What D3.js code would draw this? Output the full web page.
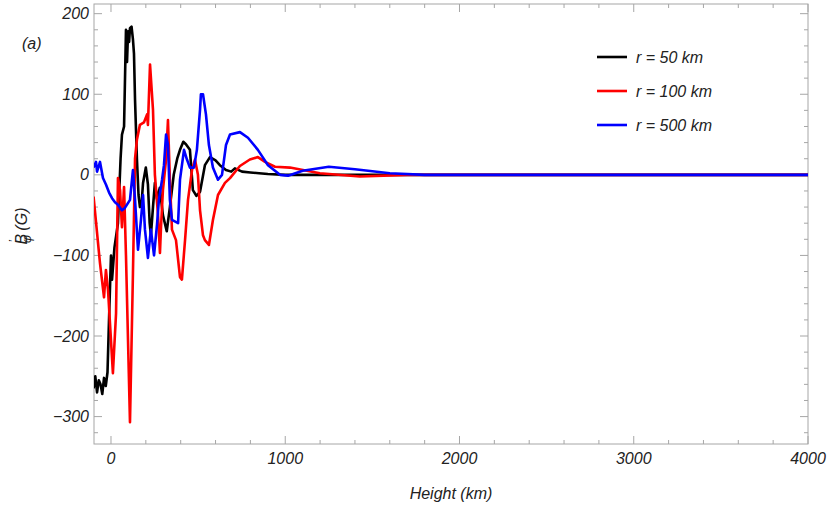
<!DOCTYPE html>
<html><head><meta charset="utf-8">
<script src="https://cdn.jsdelivr.net/npm/d3@7"></script>
<style>body{margin:0;background:#fff}svg{font-family:"Liberation Sans",Arial,sans-serif}</style>
</head><body><svg id="c" width="830" height="506"></svg>
<script>
// ── Data ──
const xTicks = [0, 1000, 2000, 3000, 4000];
const yTicks = [-300, -200, -100, 0, 100, 200];
const seriesNames = ['r = 50 km', 'r = 100 km', 'r = 500 km'];
const seriesColors = ['#000000', '#ff0000', '#0000ff'];

const blackH = [-100,-90,-80,-70,-60,-50,-40,-30,-20,-10,0,6,20,40,55,63,75,86,92,98,104,109,118,126,132,138,149,158,166,175,184,200,212,222,229,241,252,264,280,298,320,338,360,380,396,415,430,453,470,490,511,539,568,600,625,660,690,711,752,800,850,900,1000,1100,1300,1600,2000,4000];
const blackB = [-265,-250,-270,-255,-260,-272,-252,-262,-245,-170,-100,-130,-90,-60,20,50,60,180,140,178,165,182,184,168,150,93,19,-25,-40,-37,-10,9,-12,-60,-75,-40,-10,-30,-16,-50,-70,-40,0,20,31,41,38,31,-19,-26,-21,12,22,18,12,6,4,8,4,3,2,1,0,0,0,0,0,0];

const redH = [-100,-63,-40,-29,-17,11,29,40,52,63,75,86,109,126,138,149,166,189,207,212,224,241,252,270,281,287,298,316,327,338,350,373,396,407,425,442,465,482,499,511,528,539,562,585,614,654,683,740,797,843,884,941,1027,1199,1428,1700,4000];
const redB = [-27,-110,-152,-118,-143,-246,-172,-4,-19,-65,-15,-100,-307,-122,20,44,62,65,75,62,137,81,0,-50,-97,-65,-19,19,68,-6,-68,-81,-127,-130,-81,-31,6,19,0,-44,-75,-81,-87,-56,-25,-10,-4,11,19,22,16,10,9,2,-2,0,0];

const blueH = [-100,-86,-80,-63,-46,-29,-11,6,23,40,63,80,109,126,138,155,172,184,195,212,229,247,264,275,293,304,316,327,338,350,385,396,419,436,453,476,493,511,516,528,545,562,585,614,637,660,683,740,786,843,901,970,1016,1100,1250,1400,1600,1800,4000];
const blueB = [9,16,4,16,-4,-12,-22,-29,-34,-37,-44,-41,-31,6,-31,-93,-56,-25,-68,-103,-68,-100,-62,-31,-6,12,50,37,-31,-56,-60,-6,31,19,9,9,31,81,100,100,75,37,9,-6,0,37,50,53,46,31,12,0,-1,5,10,7,2,0,0];

// ── Layout ──
const svg = d3.select('#c');
const L = 94, R = 808, T = 4, B = 444;
const x = d3.scaleLinear().domain([-97.5, 4000]).range([L, R]);
const y = d3.scaleLinear().domain([-334, 212]).range([B, T]);
const frame = '#a6a6a6';

svg.append('defs').append('clipPath').attr('id', 'clip')
  .append('rect').attr('x', L).attr('y', T).attr('width', R - L).attr('height', B - T);

// frame
svg.append('rect').attr('x', L).attr('y', T).attr('width', R - L).attr('height', B - T)
  .attr('fill', 'none').attr('stroke', frame).attr('stroke-width', 1);

// ticks (inward, all four sides)
const g = svg.append('g').attr('stroke', frame).attr('stroke-width', 1);
d3.range(0, 4001, 200).forEach(v => {
  const len = v % 1000 === 0 ? 8 : 4, px = x(v);
  g.append('line').attr('x1', px).attr('x2', px).attr('y1', B).attr('y2', B - len);
  g.append('line').attr('x1', px).attr('x2', px).attr('y1', T).attr('y2', T + len);
});
d3.range(-320, 201, 20).forEach(v => {
  const len = v % 100 === 0 ? 8 : 4, py = y(v);
  g.append('line').attr('x1', L).attr('x2', L + len).attr('y1', py).attr('y2', py);
  g.append('line').attr('x1', R).attr('x2', R - len).attr('y1', py).attr('y2', py);
});

// tick labels
const lab = svg.append('g').attr('font-size', 16).attr('font-style', 'italic').attr('fill', '#222');
xTicks.forEach(v => lab.append('text').attr('x', x(v)).attr('y', B + 20)
  .attr('text-anchor', 'middle').text(v));
yTicks.forEach(v => lab.append('text').attr('x', L - 5).attr('y', y(v)).attr('dy', '0.35em')
  .attr('text-anchor', 'end').text(v < 0 ? '\u2212' + (-v) : v));

// axis titles
svg.append('text').attr('x', 451).attr('y', 499).attr('text-anchor', 'middle')
  .attr('font-size', 16).attr('font-style', 'italic').attr('fill', '#222').text('Height (km)');
const yl = svg.append('text').attr('transform', 'translate(27,226) rotate(-90)')
  .attr('text-anchor', 'middle').attr('font-size', 16).attr('font-style', 'italic').attr('fill', '#222');
yl.append('tspan').text('B');
yl.append('tspan').attr('dx', -9).attr('dy', -9).attr('font-size', 13).text('\u2019');
yl.append('tspan').attr('dx', -3).attr('dy', 13).attr('font-size', 12).text('\u03c6');
yl.append('tspan').attr('dy', -4).text(' (G)');
svg.append('text').attr('x', 22).attr('y', 49).attr('font-size', 16).attr('font-style', 'italic')
  .attr('fill', '#222').text('(a)');

// series
const line = d3.line().x(d => x(d[0])).y(d => y(d[1]));
const series = [[blackH, blackB], [redH, redB], [blueH, blueB]];
const plot = svg.append('g').attr('clip-path', 'url(#clip)');
[0, 1, 2].forEach(i => {
  const pts = series[i][0].map((h, k) => [h, series[i][1][k]]);
  plot.append('path').datum(pts).attr('fill', 'none').attr('stroke', seriesColors[i])
    .attr('stroke-width', 2.6).attr('stroke-linejoin', 'round').attr('d', line);
});

// legend
seriesNames.forEach((n, i) => {
  const ly = 57 + i * 34;
  svg.append('line').attr('x1', 597).attr('x2', 627).attr('y1', ly).attr('y2', ly)
    .attr('stroke', seriesColors[i]).attr('stroke-width', 2.6);
  svg.append('text').attr('x', 636).attr('y', ly).attr('dy', '0.35em').attr('font-size', 16)
    .attr('font-style', 'italic').attr('fill', '#222').text(n);
});
</script></body></html>
